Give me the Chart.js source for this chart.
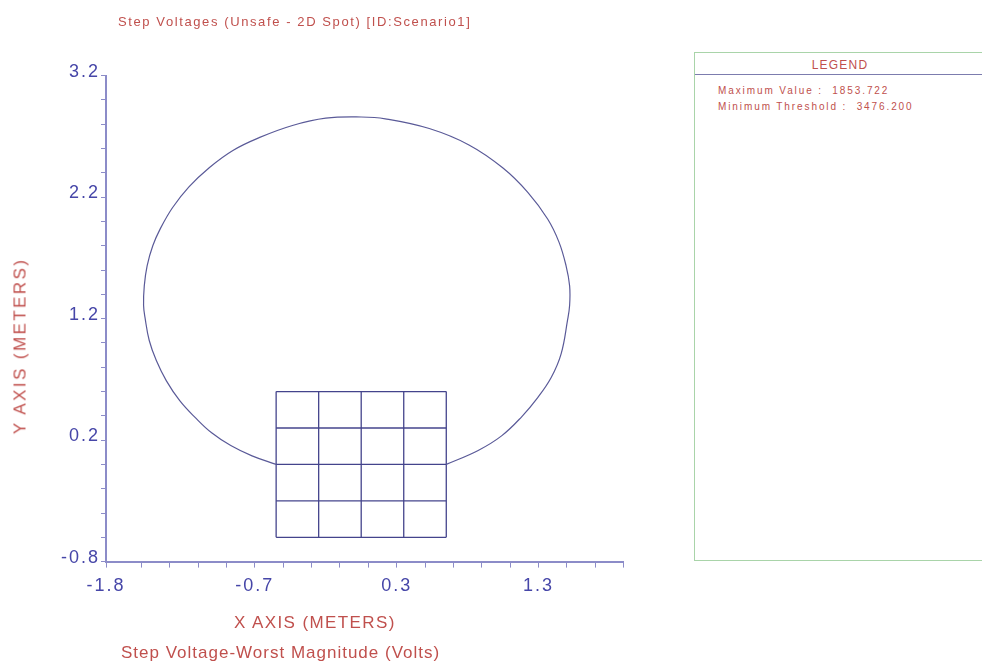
<!DOCTYPE html>
<html>
<head>
<meta charset="utf-8">
<title>Step Voltages</title>
<script src="https://cdn.jsdelivr.net/npm/chart.js@4.4.1/dist/chart.umd.min.js"></script>
<style>
    html, body {
        margin: 0;
        padding: 0;
        background: #ffffff;
        width: 982px;
        height: 662px;
        overflow: hidden;
        font-family: "Liberation Sans", Arial, sans-serif;
    }
    #plot-wrap {
        position: absolute;
        left: 0;
        top: 0;
        width: 982px;
        height: 662px;
    }
    .caption {
        position: absolute;
        color: #c0504d;
        white-space: nowrap;
        line-height: 1;
    }
    #plot-title {
        left: 118px;
        top: 15px;
        font-size: 13px;
        letter-spacing: 1.6px;
    }
    #x-title {
        left: 234px;
        top: 614px;
        font-size: 17px;
        letter-spacing: 1.4px;
    }
    #sub-title {
        left: 121px;
        top: 644px;
        font-size: 17px;
        letter-spacing: 1.0px;
    }
    #y-title {
        left: 20px;
        top: 346px;
        font-size: 17px;
        letter-spacing: 2.4px;
        transform: translate(-50%, -50%) rotate(-90deg);
    }
    #legend-box {
        position: absolute;
        left: 694px;
        top: 52px;
        width: 292px;
        height: 509px;
        border: 1.5px solid #a9d4a9;
        box-sizing: border-box;
        background: #ffffff;
    }
    #legend-head {
        height: 21px;
        border-bottom: 1px solid #7c7cae;
        text-align: center;
        font-size: 12px;
        line-height: 24px;
        letter-spacing: 1.2px;
        color: #c0504d;
    }
    .legend-row {
        position: absolute;
        left: 23px;
        font-size: 10px;
        letter-spacing: 1.9px;
        color: #c0504d;
        white-space: pre;
        line-height: 1;
    }
</style>
</head>
<body>
<div id="plot-wrap"><canvas id="step-chart"></canvas></div>

<div class="caption" id="plot-title">Step Voltages (Unsafe - 2D Spot) [ID:Scenario1]</div>
<div class="caption" id="y-title">Y AXIS (METERS)</div>
<div class="caption" id="x-title">X AXIS  (METERS)</div>
<div class="caption" id="sub-title">Step Voltage-Worst Magnitude (Volts)</div>

<div id="legend-box">
    <div id="legend-head">LEGEND</div>
    <div class="legend-row" id="legend-max" style="top: 33px;"></div>
    <div class="legend-row" id="legend-min" style="top: 49px;"></div>
</div>

<script>
// Axis ticks (every 0.2 m, labelled ones listed separately)
const xTicks = [-1.75, -1.5, -1.3, -1.1, -0.9, -0.7, -0.5, -0.3, -0.1, 0.1, 0.3, 0.5, 0.7, 0.9, 1.1, 1.3, 1.5, 1.7, 1.9];
const xLabelled = [-1.75, -0.7, 0.3, 1.3];
const yTicks = [-0.8, -0.6, -0.4, -0.2, 0, 0.2, 0.4, 0.6, 0.8, 1.0, 1.2, 1.4, 1.6, 1.8, 2.0, 2.2, 2.4, 2.6, 2.8, 3.0, 3.2];
const yLabelled = [-0.8, 0.2, 1.2, 2.2, 3.2];

// Unsafe step voltage contour (meters)
const contourX = [-0.55, -0.72, -0.87, -1.005, -1.12, -1.23, -1.325, -1.395, -1.445, -1.475, -1.485, -1.48, -1.46, -1.42, -1.365, -1.28, -1.165, -1.02, -0.855, -0.67, -0.435, -0.2, 0.05, 0.22, 0.53, 0.81, 1.05, 1.225, 1.365, 1.445, 1.495, 1.52, 1.52, 1.505, 1.46, 1.39, 1.295, 1.18, 1.04, 0.875, 0.65];
const contourY = [0.0, 0.07, 0.155, 0.26, 0.385, 0.525, 0.69, 0.855, 1.02, 1.21, 1.31, 1.47, 1.635, 1.8, 1.945, 2.115, 2.285, 2.445, 2.585, 2.69, 2.79, 2.85, 2.86, 2.845, 2.765, 2.63, 2.44, 2.24, 2.02, 1.83, 1.635, 1.47, 1.31, 1.185, 0.91, 0.715, 0.55, 0.39, 0.235, 0.115, 0.0];

// Ground grid conductors
const gridX = [-0.55, -0.25, 0.05, 0.35, 0.65];
const gridY = [-0.6, -0.3, 0.0, 0.3, 0.6];

// Legend values
const maximumValue = 1853.722;
const minimumThreshold = 3476.200;

const AXIS_COLOR = '#8c8cc8';
const LABEL_BLUE = '#4646a8';
const LINE_NAVY = '#44448c';

document.getElementById('legend-max').textContent = 'Maximum Value :  ' + maximumValue.toFixed(3);
document.getElementById('legend-min').textContent = 'Minimum Threshold :  ' + minimumThreshold.toFixed(3);

function isLabelled(list, value) {
    return list.some(v => Math.abs(v - value) < 1e-6);
}

// Build datasets
function buildDatasets() {
    const datasets = [];

    datasets.push({
        label: 'Contour',
        data: contourX.map((x, i) => ({ x: x, y: contourY[i] })),
        borderColor: '#5a5a98',
        borderWidth: 1.2,
        tension: 0.4
    });

    gridX.forEach(gx => {
        datasets.push({
            label: 'Grid',
            data: [{ x: gx, y: gridY[0] }, { x: gx, y: gridY[gridY.length - 1] }],
            borderColor: LINE_NAVY,
            borderWidth: 1.3
        });
    });
    gridY.forEach(gy => {
        datasets.push({
            label: 'Grid',
            data: [{ x: gridX[0], y: gy }, { x: gridX[gridX.length - 1], y: gy }],
            borderColor: LINE_NAVY,
            borderWidth: 1.3
        });
    });

    return datasets;
}

// Wider text spacing for tick labels
const spacedTicks = {
    id: 'spacedTicks',
    beforeDraw(chart) {
        chart.ctx.letterSpacing = '2px';
    }
};

let stepChart;

function initChart() {
    try {
        const ctx = document.getElementById('step-chart').getContext('2d');
        stepChart = new Chart(ctx, {
            type: 'scatter',
            data: { datasets: buildDatasets() },
            plugins: [spacedTicks],
            options: {
                responsive: true,
                maintainAspectRatio: false,
                animation: false,
                showLine: true,
                elements: {
                    point: { radius: 0, hoverRadius: 0 }
                },
                layout: {
                    padding: { left: 0, top: 75.7, right: 358.5, bottom: 70.4 }
                },
                plugins: {
                    legend: { display: false },
                    tooltip: { enabled: false },
                    title: { display: false }
                },
                scales: {
                    x: {
                        type: 'linear',
                        position: 'bottom',
                        min: -1.75,
                        max: 1.9,
                        afterBuildTicks: function(axis) {
                            axis.ticks = xTicks.map(v => ({ value: v }));
                        },
                        afterFit: function(axis) {
                            axis.height = 30;
                        },
                        ticks: {
                            autoSkip: false,
                            maxRotation: 0,
                            color: LABEL_BLUE,
                            padding: 8,
                            font: { family: '"Liberation Sans", Arial, sans-serif', size: 18 },
                            callback: function(value) {
                                return isLabelled(xLabelled, value) ? value.toFixed(1) : '';
                            }
                        },
                        grid: {
                            drawOnChartArea: false,
                            drawTicks: true,
                            tickLength: 6,
                            tickColor: AXIS_COLOR
                        },
                        border: { color: AXIS_COLOR, width: 2 }
                    },
                    y: {
                        type: 'linear',
                        position: 'left',
                        min: -0.8,
                        max: 3.2,
                        afterBuildTicks: function(axis) {
                            axis.ticks = yTicks.map(v => ({ value: v }));
                        },
                        afterFit: function(axis) {
                            axis.width = 106;
                        },
                        ticks: {
                            autoSkip: false,
                            color: LABEL_BLUE,
                            padding: 1,
                            labelOffset: -4,
                            font: { family: '"Liberation Sans", Arial, sans-serif', size: 18 },
                            callback: function(value) {
                                return isLabelled(yLabelled, value) ? value.toFixed(1) : '';
                            }
                        },
                        grid: {
                            drawOnChartArea: false,
                            drawTicks: true,
                            tickLength: 5,
                            tickColor: AXIS_COLOR
                        },
                        border: { color: AXIS_COLOR, width: 2 }
                    }
                }
            }
        });
    } catch (error) {
        console.error('Error initializing chart:', error);
    }
}

initChart();
</script>
</body>
</html>
